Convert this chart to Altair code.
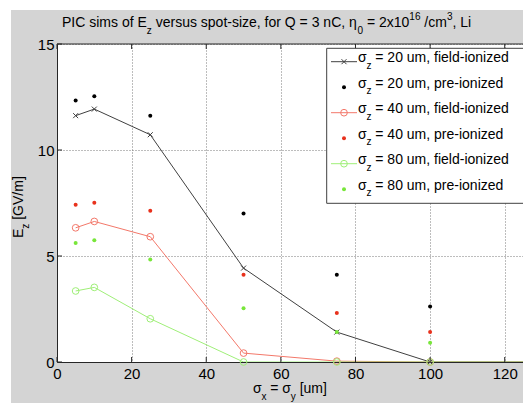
import altair as alt
import pandas as pd

# ---------------- data ----------------
x_field = [5, 10, 25, 50, 75, 100, 150]   # last point lies beyond the visible range (line continues at 0)
x_pre = [5, 10, 25, 50, 75, 100]

field_20 = [11.62, 11.93, 10.72, 4.43, 1.41, 0.0, 0.0]
pre_20 = [12.34, 12.53, 11.62, 7.01, 4.12, 2.62]
field_40 = [6.33, 6.63, 5.91, 0.42, 0.04, 0.0, 0.0]
pre_40 = [7.42, 7.51, 7.14, 4.12, 2.31, 1.41]
field_80 = [3.35, 3.52, 2.04, 0.0, 0.0, 0.0, 0.0]
pre_80 = [5.61, 5.74, 4.83, 2.53, 1.42, 0.91]

sigma_z = [20, 40, 80]
x_ticks = [0, 20, 40, 60, 80, 100, 120]
y_ticks = [0, 5, 10, 15]

# ---------------- style ----------------
FONT = "Liberation Sans"
W_PLOT, H_PLOT = 466, 318
X_MAX = 124.9
LINE_COLORS = ["#404040", "#f3786a", "#9fef78"]
DOT_COLORS = ["#000000", "#e8311c", "#78e63a"]
SHAPES = ["M-1,-1L1,1M-1,1L1,-1", "circle", "circle"]

xscale = alt.Scale(domain=[0, X_MAX], nice=False, zero=False)
yscale = alt.Scale(domain=[0, 15], nice=False, zero=False)
xaxis = alt.Axis(values=x_ticks, grid=True, gridDash=[1, 2], gridColor="#7a7a7a", gridWidth=1,
                 ticks=False, domainColor="#262626", domainWidth=1, labelFont=FONT,
                 labelFontSize=15, labelColor="black", labelPadding=4, title=None,
                 labelFlush=False, labelOverlap=False)
yaxis = alt.Axis(values=y_ticks, grid=True, gridDash=[1, 2], gridColor="#7a7a7a", gridWidth=1,
                 ticks=False, domainColor="#262626", domainWidth=1, labelFont=FONT,
                 labelFontSize=15, labelColor="black", labelPadding=3, title=None,
                 labelFlush=False, labelOverlap=False)
X = alt.X("x:Q", scale=xscale, axis=xaxis)
Y = alt.Y("Ez:Q", scale=yscale, axis=yaxis)

one = pd.DataFrame({"a": [0]})

# Arial / Liberation Sans advance widths (per 1000 em)
WID = {" ": 278, ",": 278, "-": 333, ".": 278, "/": 278, "=": 584, "[": 278, "]": 278,
       "C": 722, "E": 667, "G": 778, "I": 278, "L": 556, "M": 833, "P": 667, "Q": 778, "V": 667,
       "a": 556, "b": 556, "c": 500, "d": 556, "e": 556, "f": 278, "g": 556, "h": 556, "i": 222,
       "l": 222, "m": 833, "n": 556, "o": 556, "p": 556, "r": 333, "s": 500, "t": 278, "u": 556,
       "v": 500, "x": 500, "y": 500, "z": 500, "σ": 600, "η": 600}


def tw(s, size):
    return sum(WID.get(c, 556) for c in s) * size / 1000.0


def rich(parts, x0, y0, rot=False, sub_off=6.5):
    out = []
    pos = 0.0
    for t, k in parts:
        size = 14 if k == "n" else 10
        off = {"n": 0.0, "sub": sub_off, "sup": -7.5}[k]
        lead = len(t) - len(t.lstrip(" "))
        s = t.strip(" ")
        p = pos + tw(" " * lead, size)
        if s:
            if rot:
                px, py, ang = x0 + off, y0 - p, 270
            else:
                px, py, ang = x0 + p, y0 + off, 0
            out.append(alt.Chart(one).mark_text(align="left", baseline="alphabetic", font=FONT,
                                                fontSize=size, angle=ang, color="black")
                       .encode(x=alt.value(px), y=alt.value(py), text=alt.value(s)))
        pos += tw(t, size)
    return out


layers = []

# white page strip left/top of the grey figure area
layers.append(alt.Chart(one).mark_rect(color="white").encode(
    x=alt.value(-49), x2=alt.value(-46), y=alt.value(-36), y2=alt.value(H_PLOT + 41)))
layers.append(alt.Chart(one).mark_rect(color="white").encode(
    x=alt.value(-49), x2=alt.value(W_PLOT), y=alt.value(-36), y2=alt.value(-34)))

# data
fields = [field_20, field_40, field_80]
pres = [pre_20, pre_40, pre_80]
for i in range(3):
    df = pd.DataFrame({"x": x_field, "Ez": fields[i]})
    layers.append(alt.Chart(df).mark_line(clip=True, color=LINE_COLORS[i], strokeWidth=1).encode(x=X, y=Y))
    layers.append(alt.Chart(df).transform_filter(f"datum.x <= {X_MAX}")
                  .mark_point(shape=SHAPES[i], filled=False, color=LINE_COLORS[i], strokeWidth=1,
                              size=25 if i == 0 else 45, opacity=1)
                  .encode(x=X, y=Y))
for i in range(3):
    dfp = pd.DataFrame({"x": x_pre, "Ez": pres[i]})
    layers.append(alt.Chart(dfp).mark_circle(color=DOT_COLORS[i], size=16, opacity=1).encode(x=X, y=Y))

# inward ticks and top border
tx = pd.DataFrame({"x": x_ticks})
ty = pd.DataFrame({"Ez": y_ticks})
layers.append(alt.Chart(tx).mark_rule(color="#262626").encode(x=X, y=alt.value(H_PLOT), y2=alt.value(H_PLOT - 5)))
layers.append(alt.Chart(tx).mark_rule(color="#262626").encode(x=X, y=alt.value(0), y2=alt.value(5)))
layers.append(alt.Chart(ty).mark_rule(color="#262626").encode(y=Y, x=alt.value(0), x2=alt.value(5)))
layers.append(alt.Chart(one).mark_rule(color="#262626").encode(
    x=alt.value(0), x2=alt.value(W_PLOT), y=alt.value(0)))

# legend box (its right side runs off the figure, as in the reference)
layers.append(alt.Chart(one).mark_rect(fill="white", stroke="#404040", strokeWidth=1).encode(
    x=alt.value(269.7), x2=alt.value(W_PLOT + 30), y=alt.value(4.3), y2=alt.value(159.3)))
for i in range(3):
    for j in range(2):
        r = 2 * i + j
        sy = 17.7 + 25.5 * r
        if j == 0:
            layers.append(alt.Chart(one).mark_rule(color=LINE_COLORS[i], strokeWidth=1).encode(
                x=alt.value(274), x2=alt.value(300), y=alt.value(sy)))
            layers.append(alt.Chart(one).mark_point(shape=SHAPES[i], filled=False, color=LINE_COLORS[i],
                                                    strokeWidth=1, size=25 if i == 0 else 45, opacity=1)
                          .encode(x=alt.value(287), y=alt.value(sy)))
            kind = "field-ionized"
        else:
            layers.append(alt.Chart(one).mark_circle(color=DOT_COLORS[i], size=16, opacity=1).encode(
                x=alt.value(287), y=alt.value(sy)))
            kind = "pre-ionized"
        layers += rich([("σ", "n"), ("z", "sub"), (f" = {sigma_z[i]} um, {kind}", "n")], 301, sy + 0.5)

# title
layers += rich([("PIC sims of E", "n"), ("z", "sub"), (" versus spot-size, for Q = 3 nC, η", "n"),
                ("0", "sub"), (" = 2x10", "n"), ("16", "sup"), (" /cm", "n"), ("3", "sup"),
                (", Li", "n")], 5, -17)
# x label
layers += rich([("σ", "n"), ("x", "sub"), (" = σ", "n"), ("y", "sub"), (" [um]", "n")], 196, 349)
# y label
layers += rich([("E", "n"), ("z", "sub"), (" [GV/m]", "n")], -34.3, 194, rot=True)

chart = alt.layer(*layers).properties(
    width=W_PLOT, height=H_PLOT, autosize="none",
    padding={"left": 49, "top": 36, "right": 0, "bottom": 41},
    background="#d4d4d4",
).configure_view(fill="white", strokeWidth=0)

chart.save("out.html", embed_options={"renderer": "svg", "actions": False})
